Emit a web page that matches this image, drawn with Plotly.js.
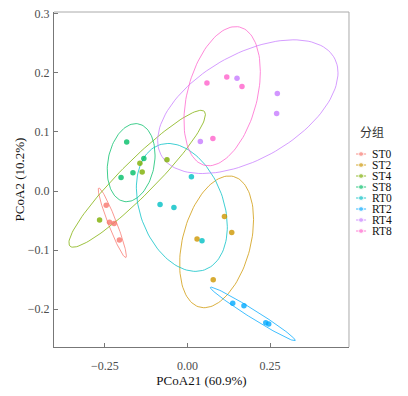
<!DOCTYPE html>
<html><head><meta charset="utf-8">
<script src="https://cdn.plot.ly/plotly-3.0.1.min.js"></script>
<style>html,body{margin:0;padding:0;background:#fff}</style>
</head><body><div id="chart" style="width:408px;height:396px"></div>
<script>
// ---- data ----
const groups = ['ST0','ST2','ST4','ST8','RT0','RT2','RT4','RT8'];
const colors = ['#F8766D','#CD9600','#7CAE00','#00BE67','#00BFC4','#00A9FF','#C77CFF','#FF61CC'];
const st0_x = [-0.246, -0.236, -0.222, -0.206];
const st0_y = [-0.024, -0.053, -0.055, -0.083];
const st2_x = [0.112, 0.134, 0.029, 0.078];
const st2_y = [-0.043, -0.070, -0.081, -0.150];
const st4_x = [-0.144, -0.062, -0.137, -0.266];
const st4_y = [0.047, 0.053, 0.032, -0.049];
const st8_x = [-0.184, -0.132, -0.201, -0.165];
const st8_y = [0.083, 0.055, 0.023, 0.031];
const rt0_x = [0.012, -0.083, -0.041, 0.044];
const rt0_y = [0.024, -0.023, -0.028, -0.084];
const rt2_x = [0.137, 0.171, 0.237, 0.246];
const rt2_y = [-0.190, -0.194, -0.223, -0.225];
const rt4_x = [0.150, 0.272, 0.270, 0.039];
const rt4_y = [0.191, 0.165, 0.131, 0.084];
const rt8_x = [0.059, 0.119, 0.165, 0.077];
const rt8_y = [0.183, 0.193, 0.177, 0.089];
const xTickVals = [-0.25, 0, 0.25];
const xTickText = ['\u22120.25', '0.00', '0.25'];
const yTickVals = [-0.2, -0.1, 0, 0.1, 0.2, 0.3];
const yTickText = ['\u22120.2', '\u22120.1', '0.0', '0.1', '0.2', '0.3'];
const xTitle = 'PCoA21 (60.9%)';
const yTitle = 'PCoA2 (10.2%)';
const legendTitle = '分组';

const xs = [st0_x, st2_x, st4_x, st8_x, rt0_x, rt2_x, rt4_x, rt8_x];
const ys = [st0_y, st2_y, st4_y, st8_y, rt0_y, rt2_y, rt4_y, rt8_y];

// 95% normal confidence ellipse computed from each group's points
function ellipse(x, y) {
  const n = x.length;
  const mx = x.reduce((a, b) => a + b, 0) / n;
  const my = y.reduce((a, b) => a + b, 0) / n;
  let sxx = 0, syy = 0, sxy = 0;
  for (let i = 0; i < n; i++) {
    sxx += (x[i] - mx) ** 2; syy += (y[i] - my) ** 2; sxy += (x[i] - mx) * (y[i] - my);
  }
  sxx /= (n - 1); syy /= (n - 1); sxy /= (n - 1);
  const a = Math.sqrt(sxx), b = sxy / a, c = Math.sqrt(Math.max(syy - b * b, 0));
  const r = Math.sqrt(5.991465);
  const ex = [], ey = [];
  for (let k = 0; k <= 120; k++) {
    const t = 2 * Math.PI * k / 120;
    ex.push(mx + r * a * Math.cos(t));
    ey.push(my + r * (b * Math.cos(t) + c * Math.sin(t)));
  }
  return [ex, ey];
}

const font = 'Liberation Serif, Times New Roman, serif';
const traces = [];
groups.forEach((g, i) => {
  const [ex, ey] = ellipse(xs[i], ys[i]);
  traces.push({x: ex, y: ey, mode: 'lines', type: 'scatter', showlegend: false, opacity: 0.75,
    line: {color: colors[i], width: 1}, hoverinfo: 'skip'});
});
groups.forEach((g, i) => {
  traces.push({x: xs[i], y: ys[i], mode: 'markers', type: 'scatter', name: g, showlegend: false,
    marker: {color: colors[i], size: 5.5, opacity: 0.8}});
});

// compact legend on a hidden axis pair (x2/y2 units ~ pixels)
const annotations = [{xref: 'x2', yref: 'y2', x: 6, y: 119, text: legendTitle, showarrow: false,
  xanchor: 'left', yanchor: 'middle', font: {family: 'Noto Sans CJK SC', size: 12, color: '#333'}}];
groups.forEach((g, i) => {
  const yy = 142 + 11 * i;
  traces.push({x: [4.5, 9.5, 14.5], y: [yy, yy, yy], xaxis: 'x2', yaxis: 'y2', type: 'scatter',
    mode: 'lines+markers', showlegend: false, hoverinfo: 'skip', cliponaxis: false, opacity: 0.8,
    line: {color: colors[i], width: 1}, marker: {color: colors[i], size: [0, 5, 0]}});
  annotations.push({xref: 'x2', yref: 'y2', x: 18.5, y: yy, text: g, showarrow: false,
    xanchor: 'left', yanchor: 'middle', font: {family: font, size: 11.5, color: '#111'}});
});

const layout = {
  width: 408, height: 396,
  margin: {l: 54, r: 8, t: 12, b: 49},
  paper_bgcolor: '#fff', plot_bgcolor: '#fff',
  showlegend: false,
  font: {family: font},
  xaxis: {domain: [0, 0.8526], range: [-0.404, 0.489], tickvals: xTickVals, ticktext: xTickText,
    showgrid: false, zeroline: false, showline: true, linecolor: '#777', linewidth: 1,
    ticks: 'inside', ticklen: 4, tickcolor: '#777', ticklabelstandoff: 8,
    tickfont: {family: font, size: 12, color: '#4d4d4d'},
    title: {text: xTitle, font: {family: font, size: 13, color: '#111'}, standoff: 3}},
  yaxis: {range: [-0.264, 0.303], tickvals: yTickVals, ticktext: yTickText,
    showgrid: false, zeroline: false, showline: true, linecolor: '#777', linewidth: 1,
    ticks: 'inside', ticklen: 4, tickcolor: '#777', ticklabelstandoff: 1,
    tickfont: {family: font, size: 12, color: '#4d4d4d'},
    title: {text: yTitle, font: {family: font, size: 13, color: '#111'}, standoff: 0}},
  xaxis2: {domain: [0.86, 1], range: [0, 48.4], visible: false, fixedrange: true},
  yaxis2: {domain: [0, 1], range: [335, 0], visible: false, fixedrange: true, anchor: 'x2'},
  shapes: [
    {type: 'line', xref: 'paper', yref: 'paper', x0: 0, x1: 0.8526, y0: 1, y1: 1, line: {color: '#aaa', width: 1}},
    {type: 'line', xref: 'paper', yref: 'paper', x0: 0.8526, x1: 0.8526, y0: 0, y1: 1, line: {color: '#aaa', width: 1}}
  ],
  annotations: annotations
};
Plotly.newPlot('chart', traces, layout, {displayModeBar: false, staticPlot: true});
</script></body></html>
